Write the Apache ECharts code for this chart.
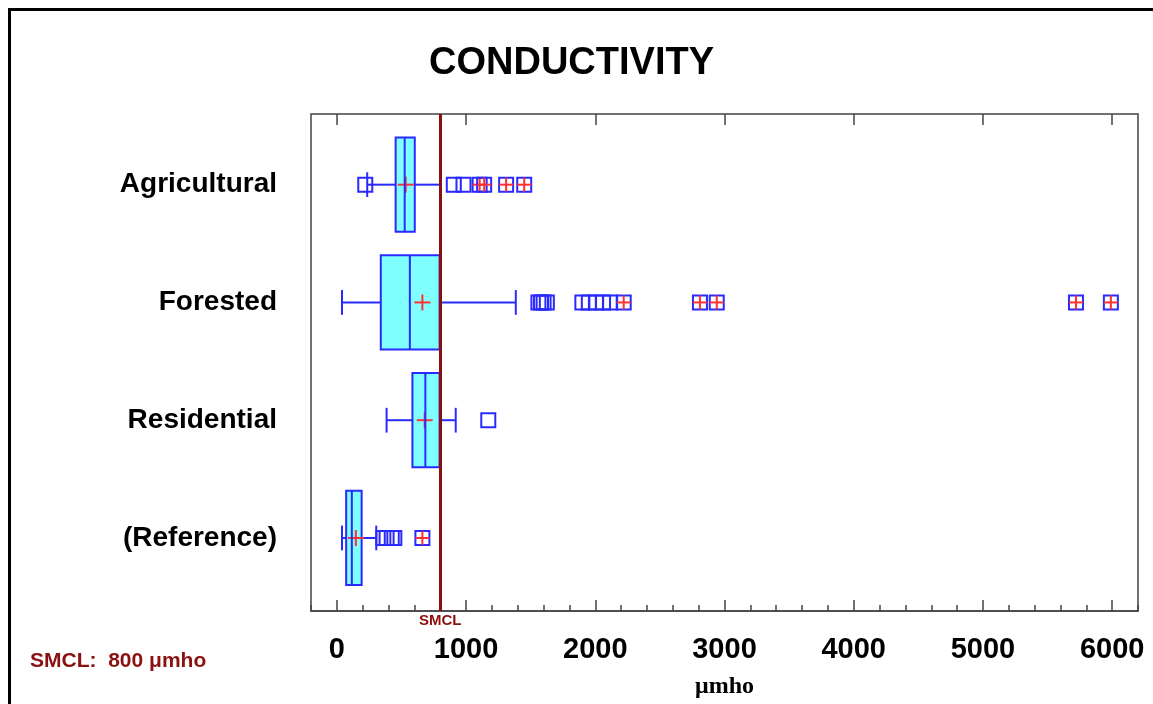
<!DOCTYPE html>
<html>
<head>
<meta charset="utf-8">
<script src="https://cdn.jsdelivr.net/npm/echarts@6/dist/echarts.min.js"></script>
<style>
  html, body { margin: 0; padding: 0; background: #fff; }
  #chart { width: 1153px; height: 704px; }
</style>
</head>
<body>
<div id="chart"></div>
<script>
  // box-and-whisker values, one entry per land use
  const categories = ['Agricultural', 'Forested', 'Residential', '(Reference)']
  const whiskerLow = [235, 40, 385, 40]
  const lowerQuartile = [455, 340, 585, 72]
  const medians = [525, 565, 685, 116]
  const upperQuartile = [603, 795, 795, 192]
  const whiskerHigh = [800, 1385, 920, 305]
  const means = [533, 662, 680, 147]
  // outside points (square) and far outside points (square with red cross)
  const outsidePoints = [
    [220, 905, 980],
    [1560, 1580, 1600, 1625, 1900, 1950, 2005, 2060, 2115],
    [1172],
    [360, 385, 425, 445]
  ]
  const farOutsidePoints = [
    [1105, 1140, 1310, 1450],
    [2220, 2810, 2940, 5720, 5990],
    [],
    [662]
  ]
  const xTicks = [0, 1000, 2000, 3000, 4000, 5000, 6000]
  const smcl = 800

  const BLUE = '#2a2aff'
  const CYAN = '#80ffff'
  const RED = '#ff3030'
  const DARKRED = '#8b1010'

  const boxData = categories.map((c, i) => [i + 1, whiskerLow[i], lowerQuartile[i], medians[i], upperQuartile[i], whiskerHigh[i], means[i]])
  const pointData = []
  outsidePoints.forEach((list, i) => list.forEach(v => pointData.push([v, i + 1, 0])))
  farOutsidePoints.forEach((list, i) => list.forEach(v => pointData.push([v, i + 1, 1])))

  function plus (cx, cy, half, color) {
    return [
      { type: 'line', shape: { x1: cx - half, y1: cy, x2: cx + half, y2: cy }, style: { stroke: color, lineWidth: 2 } },
      { type: 'line', shape: { x1: cx, y1: cy - half, x2: cx, y2: cy + half }, style: { stroke: color, lineWidth: 2 } }
    ]
  }

  function renderBox (params, api) {
    const y = api.value(0)
    const lo = api.coord([api.value(1), y])
    const q1 = api.coord([api.value(2), y])
    const med = api.coord([api.value(3), y])
    const q3 = api.coord([api.value(4), y])
    const hi = api.coord([api.value(5), y])
    const mean = api.coord([api.value(6), y])
    const h = api.size([0, 0.8])[1]
    const cap = api.size([0, 0.21])[1] / 2
    const cy = lo[1]
    const line = (x1, y1, x2, y2) => ({ type: 'line', shape: { x1, y1, x2, y2 }, style: { stroke: BLUE, lineWidth: 2 } })
    return {
      type: 'group',
      children: [
        line(lo[0], cy, q1[0], cy),
        line(q3[0], cy, hi[0], cy),
        line(lo[0], cy - cap, lo[0], cy + cap),
        line(hi[0], cy - cap, hi[0], cy + cap),
        { type: 'rect', shape: { x: q1[0], y: cy - h / 2, width: q3[0] - q1[0], height: h }, style: { fill: CYAN, stroke: BLUE, lineWidth: 2 } },
        ...plus(mean[0], cy, 8, RED),
        line(med[0], cy - h / 2, med[0], cy + h / 2)
      ]
    }
  }

  function renderPoint (params, api) {
    const p = api.coord([api.value(0), api.value(1)])
    const s = 14
    const children = [
      { type: 'rect', shape: { x: p[0] - s / 2, y: p[1] - s / 2, width: s, height: s }, style: { fill: 'none', stroke: BLUE, lineWidth: 2 } }
    ]
    if (api.value(2) === 1) children.push(...plus(p[0], p[1], 7, RED))
    return { type: 'group', children }
  }

  const chart = echarts.init(document.getElementById('chart'))
  chart.setOption({
    animation: false,
    backgroundColor: '#fff',
    title: {
      text: 'CONDUCTIVITY',
      left: 424,
      top: 40,
      textStyle: { fontFamily: 'Liberation Sans', fontWeight: 'bold', fontSize: 38, color: '#000' }
    },
    grid: { left: 311, right: 15, top: 114, bottom: 92, show: true, borderColor: '#444', borderWidth: 1.5, backgroundColor: 'transparent' },
    xAxis: [
      {
        type: 'value', min: -200, max: 6200, position: 'bottom',
        axisLine: { show: true, lineStyle: { color: '#444', width: 1.5 } },
        axisTick: { show: true, inside: true, length: 11, customValues: xTicks, lineStyle: { color: '#444', width: 1.5 } },
        axisLabel: { customValues: xTicks, formatter: v => String(v), margin: 24, fontFamily: 'Liberation Sans', fontWeight: 'bold', fontSize: 29, color: '#000' },
        splitLine: { show: false },
        name: 'μmho', nameLocation: 'middle', nameGap: 64,
        nameTextStyle: { fontFamily: 'Liberation Serif', fontWeight: 'bold', fontSize: 24, color: '#000' }
      },
      {
        type: 'value', min: -200, max: 6200, interval: 200, position: 'bottom',
        axisLine: { show: false },
        axisTick: { show: true, inside: true, length: 6, lineStyle: { color: '#444', width: 1.5 } },
        axisLabel: { show: false },
        splitLine: { show: false }
      },
      {
        type: 'value', min: -200, max: 6200, position: 'top',
        axisLine: { show: false },
        axisTick: { show: true, inside: true, length: 11, customValues: xTicks, lineStyle: { color: '#444', width: 1.5 } },
        axisLabel: { show: false },
        splitLine: { show: false }
      }
    ],
    yAxis: {
      type: 'value', min: 0.4, max: 4.62, inverse: true,
      axisLine: { show: false },
      axisTick: { show: false },
      splitLine: { show: false },
      axisLabel: {
        customValues: [1, 2, 3, 4],
        formatter: v => categories[Math.round(v) - 1],
        margin: 34,
        fontFamily: 'Liberation Sans', fontWeight: 'bold', fontSize: 28, color: '#000'
      }
    },
    graphic: [
      { type: 'rect', left: 7, top: 7, shape: { width: 1300, height: 900 }, style: { fill: 'none', stroke: '#000', lineWidth: 3 }, silent: true },
      { type: 'text', left: 30, top: 651, style: { text: 'SMCL:  800 μmho', fill: DARKRED, font: 'bold 21px "Liberation Sans"' } }
    ],
    series: [
      {
        type: 'custom',
        renderItem: renderBox,
        data: boxData,
        encode: { x: [1, 2, 3, 4, 5, 6], y: 0 },
        z: 2,
        markLine: {
          silent: true,
          symbol: 'none',
          lineStyle: { color: DARKRED, width: 3, type: 'solid' },
          label: { show: true, position: 'end', formatter: 'SMCL', color: DARKRED, fontFamily: 'Liberation Sans', fontWeight: 'bold', fontSize: 15, distance: 2 },
          data: [{ xAxis: smcl }]
        }
      },
      {
        type: 'custom',
        renderItem: renderPoint,
        data: pointData,
        encode: { x: 0, y: 1 },
        z: 3
      }
    ]
  })
</script>
</body>
</html>
